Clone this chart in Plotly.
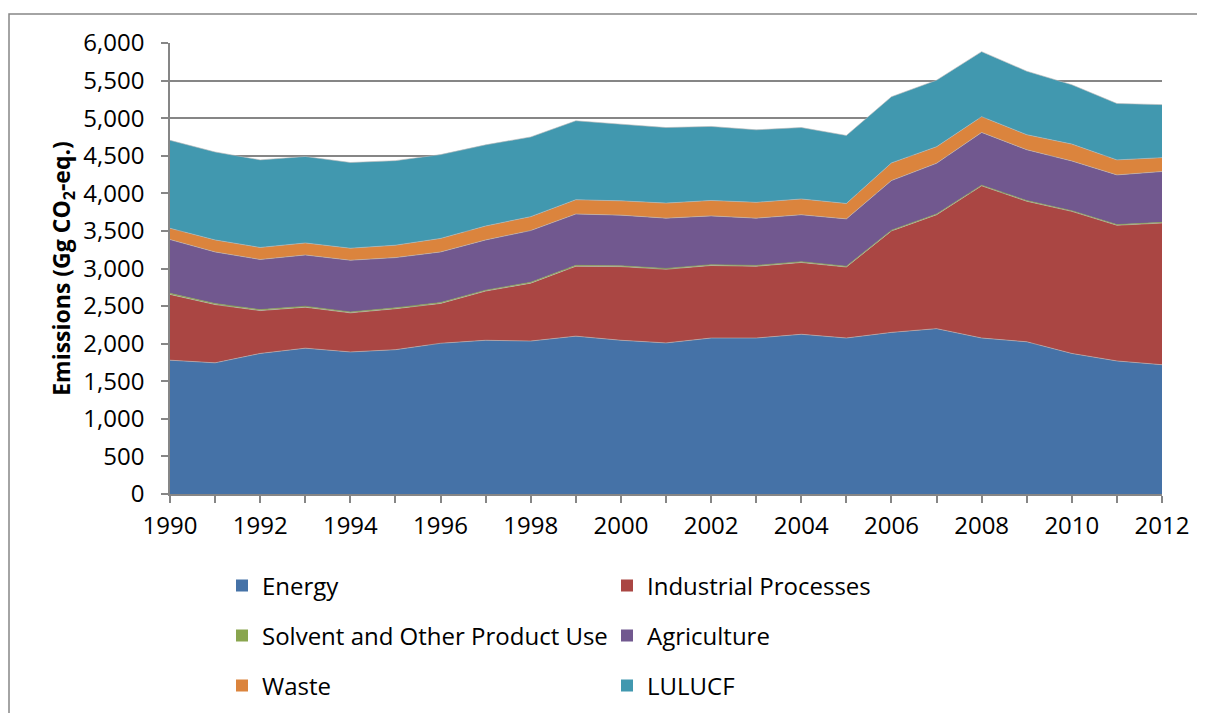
import plotly.graph_objects as go

years = list(range(1990, 2013))
energy = [1780, 1745, 1870, 1940, 1890, 1920, 2005, 2045, 2035, 2100, 2045, 2010, 2075, 2075, 2125, 2075, 2150, 2200, 2075, 2025, 1870, 1770, 1720]
industrial = [875, 775, 570, 545, 520, 545, 530, 655, 770, 930, 980, 980, 965, 955, 955, 945, 1350, 1515, 2025, 1870, 1890, 1805, 1885]
solvent = [15, 14, 13, 13, 12, 12, 12, 12, 12, 12, 11, 11, 11, 11, 11, 10, 10, 10, 9, 9, 9, 9, 9]
agriculture = [715, 686, 667, 682, 688, 668, 673, 668, 688, 683, 674, 669, 649, 629, 624, 630, 660, 675, 701, 676, 661, 661, 676]
waste = [150, 160, 160, 160, 160, 165, 180, 185, 185, 190, 190, 200, 205, 210, 210, 205, 235, 220, 210, 200, 225, 200, 185]
lulucf = [1170, 1170, 1165, 1150, 1140, 1125, 1115, 1080, 1060, 1050, 1020, 1005, 985, 965, 950, 905, 880, 885, 865, 845, 790, 750, 705]

series = [
    ("Energy", energy, "#4572A7", "legend"),
    ("Industrial Processes", industrial, "#AA4643", "legend"),
    ("Solvent and Other Product Use", solvent, "#89A54E", "legend2"),
    ("Agriculture", agriculture, "#71588F", "legend2"),
    ("Waste", waste, "#DB843D", "legend3"),
    ("LULUCF", lulucf, "#4198AF", "legend3"),
]

fig = go.Figure()
for name, vals, color, lg in series:
    fig.add_trace(go.Scatter(
        x=years, y=vals, name=name, mode="lines", stackgroup="one",
        line=dict(width=0.6, color="#B9B9B9" if name != "Solvent and Other Product Use" else color),
        fillcolor=color, showlegend=False, hoverinfo="x+y+name",
    ))
# legend swatches (square keys like the reference)
for name, vals, color, lg in series:
    fig.add_trace(go.Bar(x=[None], y=[None], name=name, marker=dict(color=color, line=dict(width=0)),
                         legend=lg, showlegend=True))

FAM = "'Open Sans', sans-serif"
tickfont = dict(family=FAM, size=24, color="#000000")
legfont = dict(family=FAM, size=24, color="#000000")

OFF = 7  # page offset of the figure in the screenshot
W, H = 1205, 713
l, t = 169 - OFF, 42 - OFF
pw, ph = 992, 451
r, b = W - l - pw, H - t - ph

def px_x(sx):
    return (sx - OFF - l) / pw

def px_y(sy):
    return (t + ph - (sy - OFF)) / ph

leg_common = dict(orientation="h", x=px_x(221), xanchor="left", yanchor="middle",
                  entrywidth=340, font=legfont, bgcolor="rgba(0,0,0,0)",
                  traceorder="normal")

fig.update_layout(
    width=W, height=H,
    margin=dict(l=l, r=r, t=t, b=b, autoexpand=False),
    paper_bgcolor="white", plot_bgcolor="white",
    font=tickfont,
    showlegend=True,
    legend=dict(y=px_y(585), **leg_common),
    legend2=dict(y=px_y(635), **leg_common),
    legend3=dict(y=px_y(685), **leg_common),
    xaxis=dict(
        range=[1990, 2012], tickmode="linear", tick0=1990, dtick=2,
        ticks="outside", ticklen=7, tickcolor="#868686", tickwidth=1.5,
        showline=True, linecolor="#868686", linewidth=1.5, showgrid=False,
        minor=dict(dtick=1, ticks="outside", ticklen=7, tickcolor="#868686", tickwidth=1.5, showgrid=False),
        tickfont=tickfont, zeroline=False, ticklabelstandoff=2,
    ),
    yaxis=dict(
        range=[0, 6000], tickmode="linear", tick0=0, dtick=500, tickformat=",",
        ticks="outside", ticklen=7, tickcolor="#868686", tickwidth=1.5,
        showline=True, linecolor="#868686", linewidth=1.5,
        showgrid=True, gridcolor="#868686", gridwidth=1.5, zeroline=False,
        tickfont=tickfont, ticklabelstandoff=12,
        title=dict(text="<b>Emissions (Gg CO<sub>2</sub>-eq.)</b>",
                   font=dict(family=FAM, size=23, color="#000"), standoff=6),
    ),
    shapes=[dict(type="rect", xref="paper", yref="paper",
                 x0=px_x(8), x1=px_x(1220), y0=px_y(730), y1=px_y(13),
                 line=dict(color="#868686", width=1.5), layer="below")],
)

fig.write_html("out.html")
